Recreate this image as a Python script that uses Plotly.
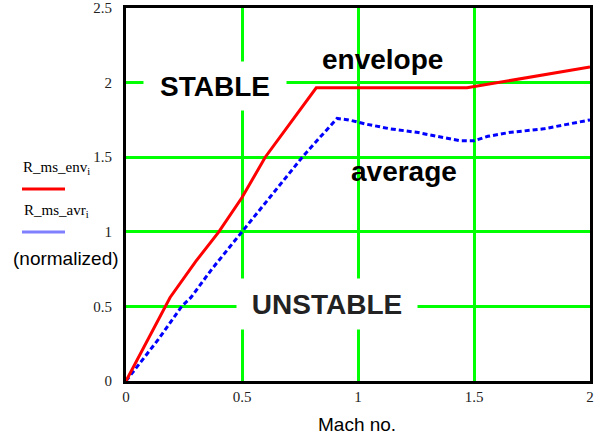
import plotly.graph_objects as go

# Data
mach_env = [0, 0.19, 0.30, 0.40, 0.50, 0.60, 0.82, 1.47, 2.0]
r_ms_env = [0, 0.56, 0.80, 1.00, 1.23, 1.50, 1.965, 1.965, 2.105]

mach_avr = [0, 0.07, 0.14, 0.24, 0.28, 0.37, 0.50, 0.63, 0.76, 0.84, 0.91,
            0.96, 1.04, 1.14, 1.26, 1.34, 1.44, 1.50, 1.56, 1.65, 1.80, 1.90, 2.0]
r_ms_avr = [0, 0.14, 0.28, 0.50, 0.56, 0.75, 1.00, 1.25, 1.50, 1.64, 1.76,
            1.75, 1.72, 1.69, 1.665, 1.64, 1.61, 1.61, 1.64, 1.665, 1.69, 1.72, 1.75]

x_ticks = [0, 0.5, 1, 1.5, 2]
y_ticks = [0, 0.5, 1, 1.5, 2, 2.5]

W, H = 600, 438
L, R, T, B = 126, 10, 8, 57
PW, PH = W - L - R, H - T - B


def px(x):
    return (x - L) / PW


def py(y):
    return (H - B - y) / PH


fig = go.Figure()
fig.add_trace(go.Scatter(x=mach_avr, y=r_ms_avr, mode="lines",
                         line=dict(color="#0000ff", width=3, dash="5px,3px"),
                         showlegend=False, hoverinfo="skip"))
fig.add_trace(go.Scatter(x=mach_env, y=r_ms_env, mode="lines",
                         line=dict(color="#ff0000", width=3),
                         showlegend=False, hoverinfo="skip"))

serif = "Liberation Serif, Times New Roman, serif"
sans = "Liberation Sans, Arial, sans-serif"

annotations = [
    dict(text="<b>STABLE</b>", x=215, y=86, font=dict(family=sans, size=28, color="#000"),
         bgcolor="white", w=142, h=48),
    dict(text="<b>UNSTABLE</b>", x=327, y=304, font=dict(family=sans, size=28, color="#222"),
         bgcolor="white", w=180, h=50),
    dict(text="<b>envelope</b>", x=382, y=60, font=dict(family=sans, size=28, color="#000")),
    dict(text="<b>average</b>", x=404, y=172, font=dict(family=sans, size=28, color="#000")),
    dict(text="Mach no.", x=357, y=424, font=dict(family=sans, size=19, color="#000")),
    dict(text="R_ms_env<sub>i</sub>", x=56, y=168, font=dict(family=serif, size=15, color="#000")),
    dict(text="R_ms_avr<sub>i</sub>", x=56, y=211, font=dict(family=serif, size=15, color="#000")),
    dict(text="(normalized)", x=66, y=258, font=dict(family=sans, size=19, color="#000")),
]
ann_objs = []
for a in annotations:
    d = dict(text=a["text"], xref="paper", yref="paper", x=px(a["x"]), y=py(a["y"]),
             xanchor="center", yanchor="middle", showarrow=False, font=a["font"])
    if "bgcolor" in a:
        d.update(bgcolor=a["bgcolor"], width=a["w"], height=a["h"], borderpad=0)
    ann_objs.append(d)

shapes = [
    dict(type="line", xref="paper", yref="paper", x0=px(22), x1=px(65), y0=py(189), y1=py(189),
         line=dict(color="#ff0000", width=3)),
    dict(type="line", xref="paper", yref="paper", x0=px(22), x1=px(65), y0=py(232), y1=py(232),
         line=dict(color="#8080ff", width=3)),
]

fig.update_layout(
    width=W, height=H,
    margin=dict(l=L, r=R, t=T, b=B, autoexpand=False),
    paper_bgcolor="white", plot_bgcolor="white",
    annotations=ann_objs, shapes=shapes,
    xaxis=dict(range=[0, 2], tickvals=x_ticks, ticktext=[str(v) for v in x_ticks],
               showgrid=True, gridcolor="#00ff00", gridwidth=3, zeroline=False,
               showline=True, linecolor="black", linewidth=3, mirror=True,
               ticks="", tickfont=dict(family=serif, size=15, color="#222")),
    yaxis=dict(range=[0, 2.5], tickvals=y_ticks, ticktext=[str(v) for v in y_ticks],
               showgrid=True, gridcolor="#00ff00", gridwidth=3, zeroline=False,
               showline=True, linecolor="black", linewidth=3, mirror=True,
               ticks="outside", ticklen=8, tickcolor="rgba(0,0,0,0)",
               tickfont=dict(family=serif, size=15, color="#222")),
)

fig.write_html("out.html", config={"displayModeBar": False},
               post_script="document.body.style.margin='0';document.body.style.overflow='hidden';")
